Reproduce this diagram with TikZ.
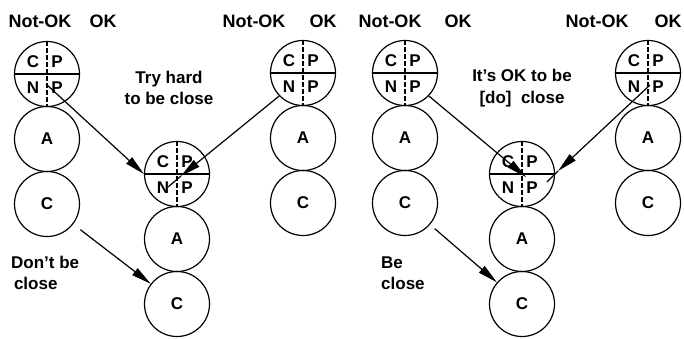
\documentclass[tikz,border=0pt]{standalone}
\usepackage{fontspec}
\setmainfont{Liberation Sans}
\usetikzlibrary{arrows.meta,calc}
\tikzset{
  circ/.style={draw,circle,line width=1.2pt,minimum size=65pt,inner sep=0pt,font=\fontsize{17}{17}\selectfont\bfseries},
  quadline/.style={line width=1.1pt},
  vline/.style={line width=1.1pt,dash pattern=on 5pt off 2pt},
  lab/.style={inner sep=0pt,font=\fontsize{17}{17}\selectfont\bfseries},
  head/.style={inner sep=0pt,font=\fontsize{18}{18}\selectfont\bfseries},
  txt/.style={inner sep=0pt,font=\fontsize{17}{21.5}\selectfont\bfseries},
  arr/.style={line width=1.2pt,-{Triangle[length=20pt,width=8.5pt]}},
  plain/.style={line width=1.2pt}
}
\newcommand\pacstack[3]{%
  \node[circ] (#1p) at (#2,#3) {};
  \node[circ] (#1a) at (#2,#3+65) {A};
  \node[circ] (#1c) at (#2,#3+130) {C};
  \draw[vline] (#1p.north) -- (#1p.south);
  \draw[quadline] (#1p.west) -- (#1p.east);
  \node[lab] (#1pc) at ($(#1p)+(-14,-12)$) {C};
  \node[lab] (#1pp) at ($(#1p)+(10,-12)$) {P};
  \node[lab] (#1pn) at ($(#1p)+(-14,14)$) {N};
  \node[lab] (#1pq) at ($(#1p)+(10,14)$) {P};
}
\begin{document}
\begin{tikzpicture}[x=1pt,y=-1pt]
\useasboundingbox (0,0) rectangle (684,338);
% stacks
\pacstack{la}{47}{74}
\pacstack{ma}{177}{174}
\pacstack{ra}{303}{73}
\pacstack{lb}{405}{73}
\pacstack{mb}{522}{174}
\pacstack{rb}{648}{73}
% headings
\node[head] (h1) at (40,21) {Not-OK};
\node[head] (h2) at (103,21) {OK};
\node[head] (h3) at (254,21) {Not-OK};
\node[head] (h4) at (323,21) {OK};
\node[head] (h5) at (390,21) {Not-OK};
\node[head] (h6) at (458,21) {OK};
\node[head] (h7) at (597,21) {Not-OK};
\node[head] (h8) at (668,21) {OK};
% texts
\node[txt,align=center] (t1) at (169,88) {Try hard\\to be close};
\node[txt,align=center] (t2) at (522,88) {It’s OK to be\\{[do]}\ \ close};
\node[txt,align=left,anchor=west] (t3) at (11,273) {Don’t be\\\,close};
\node[txt,align=left,anchor=west] (t4) at (381,273) {Be\\close};
% arrow coordinates
\coordinate (a1s) at (46,84);
\coordinate (a2t) at (181,176);
\coordinate (a2e) at (168,187);
\coordinate (a3t) at (526,177);
\coordinate (a4s) at (650,85);
\coordinate (a4t) at (558,171);
\coordinate (a4e) at (547,182);
% arrows left panel
\draw[arr] (a1s) -- (map.west);
\draw[arr] (rap.224) -- (a2t);
\draw[plain] (a2t) -- (a2e);
\draw[arr,shorten <=9pt] (lac) -- (mac);
% arrows right panel
\draw[arr] (lbp.316) -- (a3t);
\draw[arr] (a4s) -- (a4t);
\draw[plain] (a4t) -- (a4e);
\draw[arr,shorten <=6pt] (lbc) -- (mbc);
\end{tikzpicture}
\end{document}
